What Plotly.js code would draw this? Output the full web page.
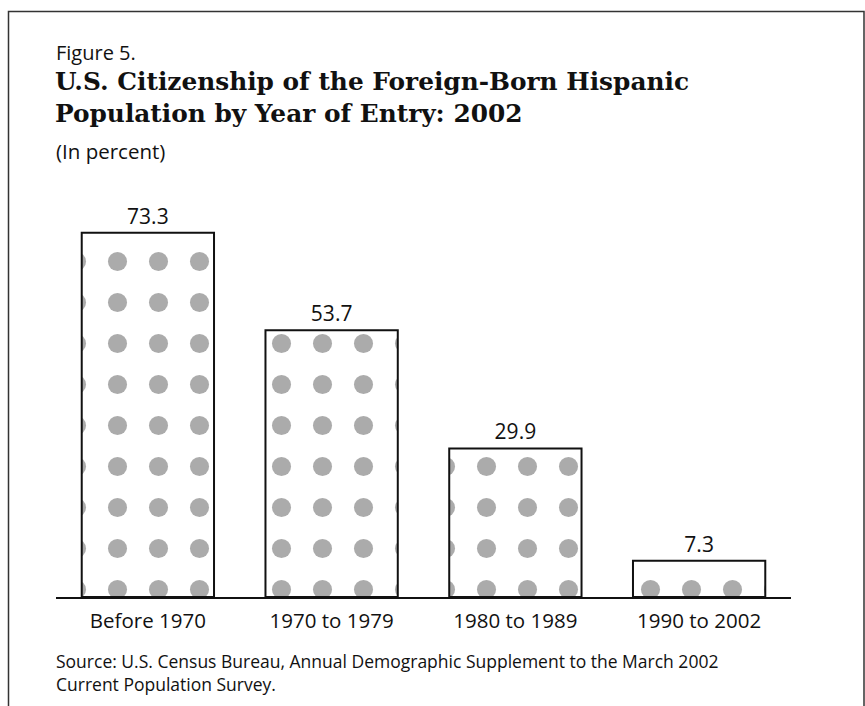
<!DOCTYPE html>
<html>
<head>
<meta charset="utf-8">
<script src="https://cdn.plot.ly/plotly-3.0.1.min.js"></script>
<style>html,body{margin:0;padding:0;background:#fff;}#chart{width:865px;height:706px;}</style>
</head>
<body>
<div id="chart"></div>
<script>
const categories = ["Before 1970", "1970 to 1979", "1980 to 1989", "1990 to 2002"];
const citizenPct = [73.3, 53.7, 29.9, 7.3];
const valueLabels = ["73.3", "53.7", "29.9", "7.3"];

const figureLabel = "Figure 5.";
const titleLines = ["U.S. Citizenship of the Foreign-Born Hispanic", "Population by Year of Entry: 2002"];
const unitNote = "(In percent)";
const sourceLines = ["Source: U.S. Census Bureau, Annual Demographic Supplement to the March 2002", "Current Population Survey."];

const W = 865, H = 706;
const L = 56, R = 74, T = 200, B = 109;
const pw = W - L - R, ph = H - T - B;
const px = x => (x - L) / pw;
const py = y => (H - B - y) / ph;

const sans = "Open Sans, Noto Sans, sans-serif";
const serif = "DejaVu Serif, serif";

const trace = {
  type: "bar",
  x: categories,
  y: citizenPct,
  text: valueLabels,
  textposition: "outside",
  textfont: {family: sans, size: 21, color: "#111"},
  cliponaxis: false,
  hoverinfo: "none",
  marker: {
    color: "#ffffff",
    line: {color: "#111", width: 2},
    pattern: {shape: ".", size: 41, solidity: 0.17, fgcolor: "#ababab", bgcolor: "#ffffff", fillmode: "replace"}
  }
};

const annotations = [
  {text: figureLabel, x: px(54), y: py(53), xanchor: "left", yanchor: "middle", font: {family: sans, size: 20, color: "#111"}},
  {text: "<b>" + titleLines.join("<br>") + "</b>", x: px(53), y: py(98), xanchor: "left", yanchor: "middle", align: "left", font: {family: serif, size: 24.8, color: "#111"}},
  {text: unitNote, x: px(54), y: py(151), xanchor: "left", yanchor: "middle", font: {family: sans, size: 20.5, color: "#111"}},
  {text: sourceLines.join("<br>"), x: px(54), y: py(672), xanchor: "left", yanchor: "middle", align: "left", font: {family: sans, size: 17.5, color: "#111"}}
].map(a => Object.assign({xref: "paper", yref: "paper", showarrow: false}, a));

const layout = {
  width: W, height: H,
  margin: {l: L, r: R, t: T, b: B, pad: 0},
  paper_bgcolor: "#fff",
  plot_bgcolor: "#fff",
  showlegend: false,
  bargap: 0.28,
  xaxis: {
    type: "category",
    range: [-0.5, 3.5],
    showline: true, linecolor: "#111", linewidth: 2,
    ticks: "", showgrid: false, zeroline: false,
    tickfont: {family: sans, size: 20.5, color: "#111"},
    ticklabelstandoff: 4,
    fixedrange: true
  },
  yaxis: {
    range: [0, 79.9],
    visible: false, showgrid: false, zeroline: false, fixedrange: true
  },
  annotations: annotations,
  shapes: [
    {type: "rect", xref: "paper", yref: "paper", x0: px(8.5), x1: px(864), y0: py(720), y1: py(11.5), line: {color: "#333", width: 1.5}}
  ]
};

Plotly.newPlot("chart", [trace], layout, {displayModeBar: false, staticPlot: true});
</script>
</body>
</html>
